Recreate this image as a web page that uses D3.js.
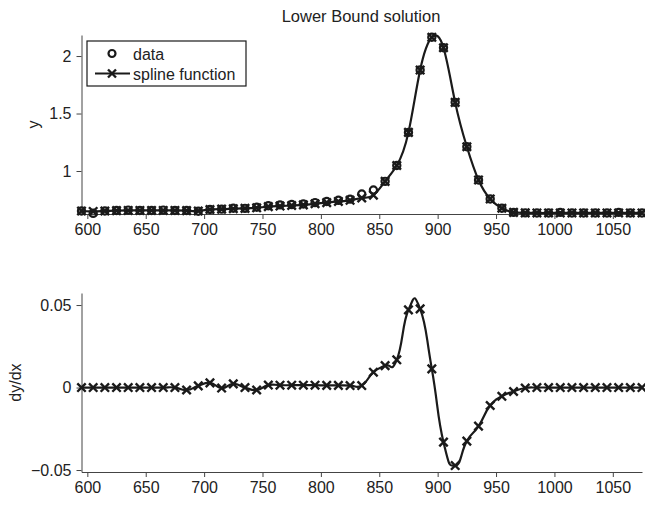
<!DOCTYPE html>
<html>
<head>
<meta charset="utf-8">
<script src="https://cdn.jsdelivr.net/npm/d3@7"></script>
<style>
  body { margin: 0; background: #fff; }
  svg { display: block; font-family: "Liberation Sans", Arial, Helvetica, sans-serif; }
  .axis path, .axis line { stroke: #444; stroke-width: 1; }
  .axis text { font-size: 16px; fill: #222; font-family: "Liberation Sans", Arial, sans-serif; }
</style>
</head>
<body>
<script>
// wavelength-like x positions (same for both panels)
var xVals = [595, 605, 615, 625, 635, 645, 655, 665, 675, 685,
             695, 705, 715, 725, 735, 745, 755, 765, 775, 785,
             795, 805, 815, 825, 835, 845, 855, 865, 875, 885,
             895, 905, 915, 925, 935, 945, 955, 965, 975, 985,
             995, 1005, 1015, 1025, 1035, 1045, 1055, 1065, 1075];

// measured data (circles)
var dataY = [0.652, 0.632, 0.652, 0.657, 0.660, 0.657, 0.657, 0.660, 0.657, 0.657,
             0.650, 0.665, 0.668, 0.676, 0.675, 0.685, 0.698, 0.705, 0.708, 0.713,
             0.725, 0.735, 0.745, 0.755, 0.800, 0.835, 0.910, 1.048, 1.336, 1.878,
             2.163, 2.072, 1.597, 1.211, 0.922, 0.757, 0.676, 0.640, 0.636, 0.635,
             0.635, 0.640, 0.635, 0.635, 0.635, 0.635, 0.640, 0.635, 0.635];

// spline function evaluated at the data x (crosses)
var splineY = [0.652, 0.648, 0.652, 0.655, 0.657, 0.657, 0.657, 0.657, 0.657, 0.655,
               0.652, 0.665, 0.668, 0.672, 0.675, 0.680, 0.690, 0.695, 0.700, 0.705,
               0.715, 0.725, 0.735, 0.745, 0.765, 0.790, 0.910, 1.048, 1.336, 1.878,
               2.163, 2.072, 1.597, 1.211, 0.922, 0.757, 0.676, 0.640, 0.636, 0.635,
               0.635, 0.635, 0.635, 0.635, 0.635, 0.635, 0.635, 0.635, 0.635];

// derivative of the spline (bottom panel)
var dydx = [0, 0, 0, 0, 0, 0, 0, 0, 0, -0.0015,
            0.001, 0.0028, -0.0003, 0.0022, 0.0, -0.0015, 0.0015, 0.0014, 0.0014, 0.0014,
            0.0014, 0.0013, 0.0013, 0.0012, 0.0012, 0.0093, 0.0133, 0.0168, 0.0471, 0.0477,
            0.0113, -0.0331, -0.0473, -0.0325, -0.0234, -0.0109, -0.0053, -0.0024, -0.0003, 0,
            0, 0, 0, 0, 0, 0, 0, 0, 0];

var xTicks = [600, 650, 700, 750, 800, 850, 900, 950, 1000, 1050];
var topYTicks = [1, 1.5, 2];
var botYTicks = [-0.05, 0, 0.05];

var width = 645, height = 505;
var ink = "#1a1a1a";

var svg = d3.select("body").append("svg")
  .attr("width", width)
  .attr("height", height);

var x = d3.scaleLinear().domain([595, 1075]).range([81.5, 642]);
var yTop = d3.scaleLinear().domain([0.626, 2.183]).range([214, 35]);
var yBot = d3.scaleLinear().domain([-0.0512, 0.0573]).range([472, 293]);

function crossPath(s) {
  return "M" + (-s) + "," + (-s) + "L" + s + "," + s + "M" + (-s) + "," + s + "L" + s + "," + (-s);
}

function drawAxes(y, yTicks, yLabel, labelX) {
  var bottom = y.range()[0];
  svg.append("g")
    .attr("class", "axis")
    .attr("transform", "translate(0," + bottom + ")")
    .call(d3.axisBottom(x).tickValues(xTicks).tickSize(5).tickSizeOuter(0).tickPadding(5).tickFormat(d3.format("d")));
  svg.append("g")
    .attr("class", "axis")
    .attr("transform", "translate(" + x.range()[0] + ",0)")
    .call(d3.axisLeft(y).tickValues(yTicks).tickSize(5).tickSizeOuter(0).tickPadding(5).tickFormat(d3.format("")));

  svg.append("text")
    .attr("transform", "translate(" + labelX + "," + ((y.range()[0] + y.range()[1]) / 2) + ") rotate(-90)")
    .attr("text-anchor", "middle")
    .style("font-size", "16px")
    .attr("fill", "#222")
    .text(yLabel);
}

// ---- top panel ----
drawAxes(yTop, topYTicks, "y", 39);

svg.append("path")
  .datum(xVals.map(function(d, i) { return [d, splineY[i]]; }))
  .attr("fill", "none")
  .attr("stroke", ink)
  .attr("stroke-width", 2.2)
  .attr("d", d3.line().x(function(d) { return x(d[0]); }).y(function(d) { return yTop(d[1]); }).curve(d3.curveNatural));

svg.append("g").selectAll("circle")
  .data(xVals)
  .enter().append("circle")
  .attr("cx", function(d) { return x(d); })
  .attr("cy", function(d, i) { return yTop(dataY[i]); })
  .attr("r", 3.6)
  .attr("fill", "none")
  .attr("stroke", ink)
  .attr("stroke-width", 2.2);

svg.append("g").selectAll("path")
  .data(xVals)
  .enter().append("path")
  .attr("transform", function(d, i) { return "translate(" + x(d) + "," + yTop(splineY[i]) + ")"; })
  .attr("d", crossPath(4.2))
  .attr("stroke", ink)
  .attr("stroke-width", 2.4);

svg.append("text")
  .attr("x", 361)
  .attr("y", 22)
  .attr("text-anchor", "middle")
  .style("font-size", "16.5px")
  .attr("fill", "#222")
  .text("Lower Bound solution");

// legend
var lg = svg.append("g");
lg.append("rect").attr("x", 87).attr("y", 41).attr("width", 159).attr("height", 45)
  .attr("fill", "#fff").attr("stroke", ink).attr("stroke-width", 1.2);
lg.append("circle").attr("cx", 112).attr("cy", 53.5).attr("r", 3.5)
  .attr("fill", "none").attr("stroke", ink).attr("stroke-width", 2.2);
lg.append("text").attr("x", 133).attr("y", 59.5).style("font-size", "16px").attr("fill", "#222").text("data");
lg.append("line").attr("x1", 95).attr("x2", 130).attr("y1", 73.5).attr("y2", 73.5)
  .attr("stroke", ink).attr("stroke-width", 2.2);
lg.append("path").attr("transform", "translate(112,73.5)").attr("d", crossPath(4))
  .attr("stroke", ink).attr("stroke-width", 2.4);
lg.append("text").attr("x", 133).attr("y", 79.5).style("font-size", "16px").attr("fill", "#222").text("spline function");

// ---- bottom panel ----
drawAxes(yBot, botYTicks, "dy/dx", 21);

svg.append("path")
  .datum(xVals.map(function(d, i) { return [d, dydx[i]]; }))
  .attr("fill", "none")
  .attr("stroke", ink)
  .attr("stroke-width", 2.2)
  .attr("d", d3.line().x(function(d) { return x(d[0]); }).y(function(d) { return yBot(d[1]); }).curve(d3.curveCardinal.tension(-0.6)));

svg.append("g").selectAll("path")
  .data(xVals)
  .enter().append("path")
  .attr("transform", function(d, i) { return "translate(" + x(d) + "," + yBot(dydx[i]) + ")"; })
  .attr("d", crossPath(4.2))
  .attr("stroke", ink)
  .attr("stroke-width", 2.4);
</script>
</body>
</html>
